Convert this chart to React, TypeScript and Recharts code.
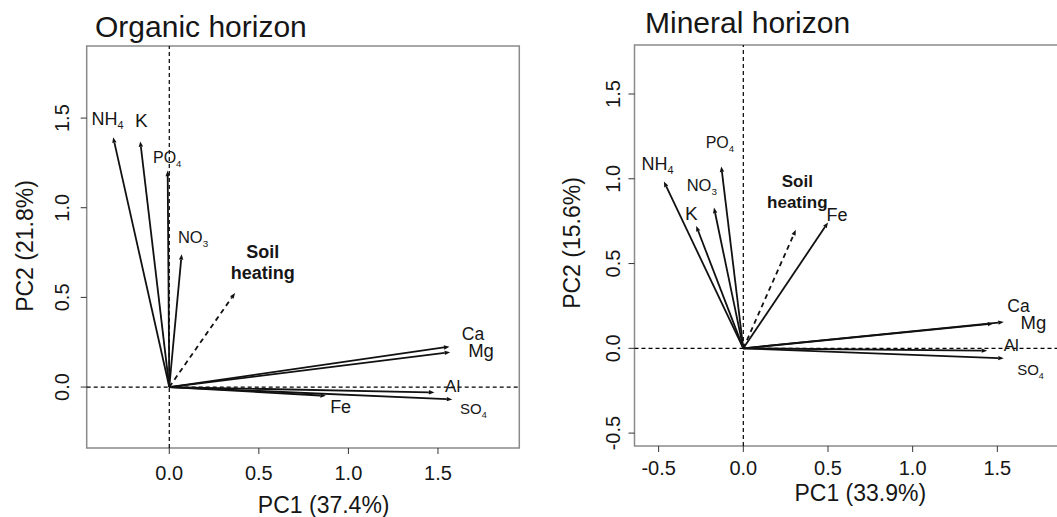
import React from "react";
import { ScatterChart, Scatter, XAxis, YAxis, ReferenceLine, ReferenceArea } from "recharts";

const FONT = '"Liberation Sans", Arial, Helvetica, sans-serif';
const TEXT = "#161616";
const INK = "#111";
const BOX = "#8a8a8a";

// variable loadings
const variables = ["NH4", "K", "PO4", "NO3", "Ca", "Mg", "Al", "SO4", "Fe"];

const organicPC1 = [-0.313, -0.162, -0.009, 0.069, 1.564, 1.568, 1.48, 1.58, 0.874];
const organicPC2 = [1.393, 1.37, 1.207, 0.741, 0.225, 0.194, -0.03, -0.069, -0.049];
const organicHeating = [0.367, 0.525];

const mineralPC1 = [-0.469, -0.278, -0.13, -0.173, 1.476, 1.538, 1.44, 1.538, 0.5];
const mineralPC2 = [0.984, 0.722, 1.073, 0.83, 0.146, 0.155, -0.014, -0.059, 0.742];
const mineralHeating = [0.31, 0.699];

const organicXTicks = [0, 0.5, 1, 1.5];
const organicYTicks = [0, 0.5, 1, 1.5];
const mineralXTicks = [-0.5, 0, 0.5, 1, 1.5];
const mineralYTicks = [-0.5, 0, 0.5, 1, 1.5];

// label placement relative to the arrow tip: [dx to text start, dy to baseline, font size]
type LabelPos = Record<string, [number, number, number]>;

const organicLabels: LabelPos = {
  NH4: [-21.6, -12.7, 18],
  K: [-5.3, -14.7, 19],
  PO4: [-14.7, -8, 16],
  NO3: [-3.7, -11.3, 16.5],
  Ca: [12.4, -7, 17.5],
  Mg: [18, 5, 18.5],
  Al: [10.7, 0, 17],
  SO4: [7.7, 14.7, 15],
  Fe: [4.3, 17.3, 18],
};

const mineralLabels: LabelPos = {
  NH4: [-22.3, -11.7, 18],
  K: [-11.3, -6, 19],
  PO4: [-15.6, -18.4, 16],
  NO3: [-27.3, -17, 16.5],
  Ca: [14, -12, 17.5],
  Mg: [16.7, 7, 18.5],
  Al: [16.6, 0, 17],
  SO4: [13.4, 16.7, 15],
  Fe: [-1.5, -1.7, 18],
};

// "Soil heating" text: [dx to centre, dy of first baseline, font size]
const organicHeatLabel = [27.7, -35.3, 18];
const mineralHeatLabel = [1.5, -43.3, 17];

const arrowLine = (dashed: boolean) => (props: any) => {
  const pts = props.points || [];
  if (pts.length < 2) return <g />;
  const a = pts[0];
  const b = pts[pts.length - 1];
  const ang = Math.atan2(b.y - a.y, b.x - a.x);
  const len = 5.5;
  const hw = 2.2;
  const bx = b.x - len * Math.cos(ang);
  const by = b.y - len * Math.sin(ang);
  const px = -Math.sin(ang) * hw;
  const py = Math.cos(ang) * hw;
  return (
    <g>
      <line
        x1={a.x}
        y1={a.y}
        x2={bx}
        y2={by}
        stroke={INK}
        strokeWidth={1.8}
        strokeDasharray={dashed ? "5 4" : undefined}
      />
      <path d={`M${b.x},${b.y} L${bx + px},${by + py} L${bx - px},${by - py} Z`} fill={INK} />
    </g>
  );
};

const labelShape = (labels: LabelPos) => (props: any) => {
  const { cx, cy, payload } = props;
  if (!payload || (payload.x === 0 && payload.y === 0)) return <g />;
  const name: string = payload.name;
  const [dx, dy, fs] = labels[name];
  const m = name.match(/^([A-Za-z]+)(\d*)$/);
  const base = m ? m[1] : name;
  const sub = m ? m[2] : "";
  return (
    <text x={cx + dx} y={cy + dy} fontSize={fs} fill={TEXT} fontFamily={FONT}>
      {base}
      {sub && (
        <tspan fontSize={fs * 0.6} dy={fs * 0.25}>
          {sub}
        </tspan>
      )}
    </text>
  );
};

const heatShape = (pos: number[]) => (props: any) => {
  const { cx, cy, payload } = props;
  if (!payload || (payload.x === 0 && payload.y === 0)) return <g />;
  return (
    <text
      x={cx + pos[0]}
      y={cy + pos[1]}
      textAnchor="middle"
      fontSize={pos[2]}
      fontWeight="bold"
      fill={TEXT}
      fontFamily={FONT}
    >
      <tspan x={cx + pos[0]}>Soil</tspan>
      <tspan x={cx + pos[0]} dy={21}>
        heating
      </tspan>
    </text>
  );
};

interface BiplotProps {
  pc1: number[];
  pc2: number[];
  heating: number[];
  labels: LabelPos;
  heatLabel: number[];
  xDomain: [number, number];
  yDomain: [number, number];
  xTicks: number[];
  yTicks: number[];
  width: number;
  height: number;
  top: number;
  right: number;
  yAxisWidth: number;
  xAxisHeight: number;
  xTickDy: number;
  yTickDx: number;
}

const Biplot = (p: BiplotProps) => {
  const renderXTick = ({ x, y, payload }: any) => (
    <text x={x} y={y + p.xTickDy} textAnchor="middle" fontSize={20} fill={TEXT} fontFamily={FONT}>
      {Number(payload.value).toFixed(1)}
    </text>
  );
  const renderYTick = ({ x, y, payload }: any) => (
    <text
      x={x + p.yTickDx}
      y={y}
      textAnchor="middle"
      fontSize={20}
      fill={TEXT}
      fontFamily={FONT}
      transform={`rotate(-90, ${x + p.yTickDx}, ${y})`}
    >
      {Number(payload.value).toFixed(1)}
    </text>
  );

  return (
    <ScatterChart
      width={p.width}
      height={p.height}
      margin={{ top: p.top, right: p.right, bottom: 0, left: 0 }}
    >
      <XAxis
        type="number"
        dataKey="x"
        domain={p.xDomain}
        ticks={p.xTicks}
        interval={0}
        allowDataOverflow
        axisLine={false}
        tickLine={{ stroke: "#333" }}
        tickSize={6}
        tickMargin={0}
        tick={renderXTick}
        height={p.xAxisHeight}
      />
      <YAxis
        type="number"
        dataKey="y"
        domain={p.yDomain}
        ticks={p.yTicks}
        interval={0}
        allowDataOverflow
        axisLine={false}
        tickLine={{ stroke: "#333" }}
        tickSize={6}
        tickMargin={0}
        tick={renderYTick}
        width={p.yAxisWidth}
      />
      <ReferenceArea
        x1={p.xDomain[0]}
        x2={p.xDomain[1]}
        y1={p.yDomain[0]}
        y2={p.yDomain[1]}
        fill="none"
        stroke={BOX}
        strokeWidth={1.5}
        fillOpacity={0}
        strokeOpacity={1}
        ifOverflow="visible"
      />
      <ReferenceLine x={0} stroke="#000" strokeWidth={1.2} strokeDasharray="4 3" />
      <ReferenceLine y={0} stroke="#000" strokeWidth={1.2} strokeDasharray="4 3" />
      {variables.map((v, i) => (
        <Scatter
          key={v}
          name={v}
          data={[
            { x: 0, y: 0, name: v },
            { x: p.pc1[i], y: p.pc2[i], name: v },
          ]}
          fill={INK}
          line={arrowLine(false)}
          shape={labelShape(p.labels)}
          isAnimationActive={false}
        />
      ))}
      <Scatter
        name="Soil heating"
        data={[
          { x: 0, y: 0, name: "heating" },
          { x: p.heating[0], y: p.heating[1], name: "heating" },
        ]}
        fill={INK}
        line={arrowLine(true)}
        shape={heatShape(p.heatLabel)}
        isAnimationActive={false}
      />
    </ScatterChart>
  );
};

export default function App() {
  return (
    <div
      style={{
        position: "absolute",
        left: 0,
        top: 0,
        width: 1057,
        height: 517,
        overflow: "hidden",
        background: "#fff",
      }}
    >
      <div style={{ position: "absolute", left: 0, top: 0 }}>
        <Biplot
          pc1={organicPC1}
          pc2={organicPC2}
          heating={organicHeating}
          labels={organicLabels}
          heatLabel={organicHeatLabel}
          xDomain={[-0.461, 1.954]}
          yDomain={[-0.34, 1.902]}
          xTicks={organicXTicks}
          yTicks={organicYTicks}
          width={540}
          height={517}
          top={46}
          right={20.7}
          yAxisWidth={86.7}
          xAxisHeight={69}
          xTickDy={26}
          yTickDx={-12}
        />
      </div>
      <div style={{ position: "absolute", left: 540, top: 0 }}>
        <Biplot
          pc1={mineralPC1}
          pc2={mineralPC2}
          heating={mineralHeating}
          labels={mineralLabels}
          heatLabel={mineralHeatLabel}
          xDomain={[-0.6425, 1.87]}
          yDomain={[-0.576, 1.789]}
          xTicks={mineralXTicks}
          yTicks={mineralYTicks}
          width={520}
          height={517}
          top={45}
          right={0}
          yAxisWidth={94.5}
          xAxisHeight={71}
          xTickDy={23}
          yTickDx={-8.5}
        />
      </div>
      <svg
        width={1057}
        height={517}
        style={{ position: "absolute", left: 0, top: 0, pointerEvents: "none" }}
        fontFamily={FONT}
        fill={TEXT}
      >
        <text x={95} y={37} fontSize={30}>
          Organic horizon
        </text>
        <text x={645} y={33} fontSize={30}>
          Mineral horizon
        </text>
        <text x={323.7} y={513} fontSize={23} textAnchor="middle">
          PC1 (37.4%)
        </text>
        <text x={860.3} y={501} fontSize={23} textAnchor="middle">
          PC1 (33.9%)
        </text>
        <text x={33} y={246} fontSize={23} textAnchor="middle" transform="rotate(-90, 33, 246)">
          PC2 (21.8%)
        </text>
        <text x={580} y={243} fontSize={23} textAnchor="middle" transform="rotate(-90, 580, 243)">
          PC2 (15.6%)
        </text>
      </svg>
    </div>
  );
}
